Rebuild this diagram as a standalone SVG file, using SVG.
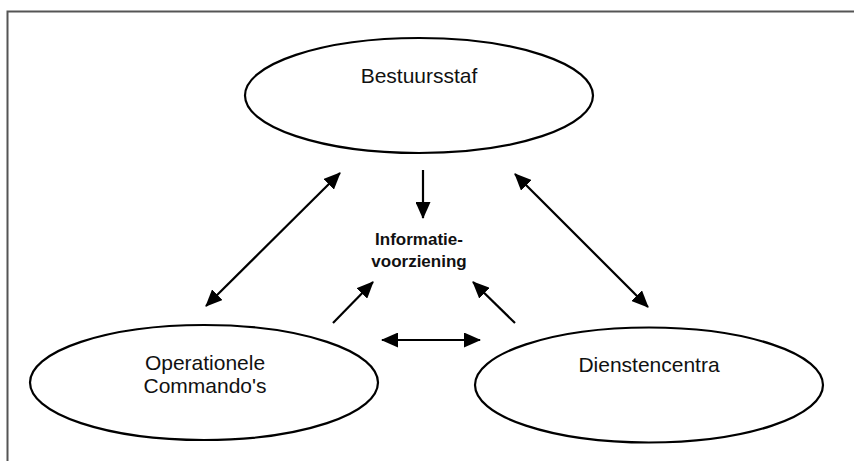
<svg xmlns="http://www.w3.org/2000/svg" width="854" height="461" viewBox="0 0 854 461">
<style>
.node ellipse{fill:#fff;stroke:#000;stroke-width:2.2}
.lbl{font-family:"Liberation Sans",Arial,sans-serif;font-size:21px;fill:#111;text-anchor:middle}
.info{font-family:"Liberation Sans",Arial,sans-serif;font-size:17px;font-weight:bold;fill:#111;text-anchor:middle}
.conn line{stroke:#000;stroke-width:2.2;fill:none}
.frame{stroke:#555;stroke-width:2;fill:none}
</style>
<defs>
<marker id="ah" viewBox="0 0 17 15" refX="16" refY="7.5" markerWidth="17" markerHeight="15" markerUnits="userSpaceOnUse" orient="auto-start-reverse">
<path d="M0,0 L17,7.5 L0,15 z" fill="#000"/>
</marker>
</defs>
<rect width="854" height="461" fill="#fff"/>
<path class="frame" d="M7.5,461 V11.5 H854"/>
<g id="bestuursstaf" class="node">
<ellipse cx="419" cy="95.5" rx="174" ry="57.5"/>
<text class="lbl" x="419" y="83">Bestuursstaf</text>
</g>
<g id="operationele" class="node">
<ellipse cx="204" cy="382.5" rx="174" ry="57.5"/>
<text class="lbl" x="205" y="370">Operationele</text>
<text class="lbl" x="205" y="393">Commando's</text>
</g>
<g id="dienstencentra" class="node">
<ellipse cx="649" cy="385" rx="174" ry="57.5"/>
<text class="lbl" x="649" y="372">Dienstencentra</text>
</g>
<g id="informatievoorziening">
<text class="info" x="419" y="245">Informatie-</text>
<text class="info" x="419" y="267">voorziening</text>
</g>
<g id="connectors" class="conn">
<line x1="423" y1="170" x2="423" y2="218" marker-end="url(#ah)"/>
<line x1="333" y1="323" x2="373" y2="282" marker-end="url(#ah)"/>
<line x1="515" y1="323" x2="473" y2="282" marker-end="url(#ah)"/>
<line x1="382" y1="340" x2="480" y2="340" marker-start="url(#ah)" marker-end="url(#ah)"/>
<line x1="340" y1="173" x2="206" y2="306" marker-start="url(#ah)" marker-end="url(#ah)"/>
<line x1="515" y1="174" x2="648" y2="307" marker-start="url(#ah)" marker-end="url(#ah)"/>
</g>
</svg>
